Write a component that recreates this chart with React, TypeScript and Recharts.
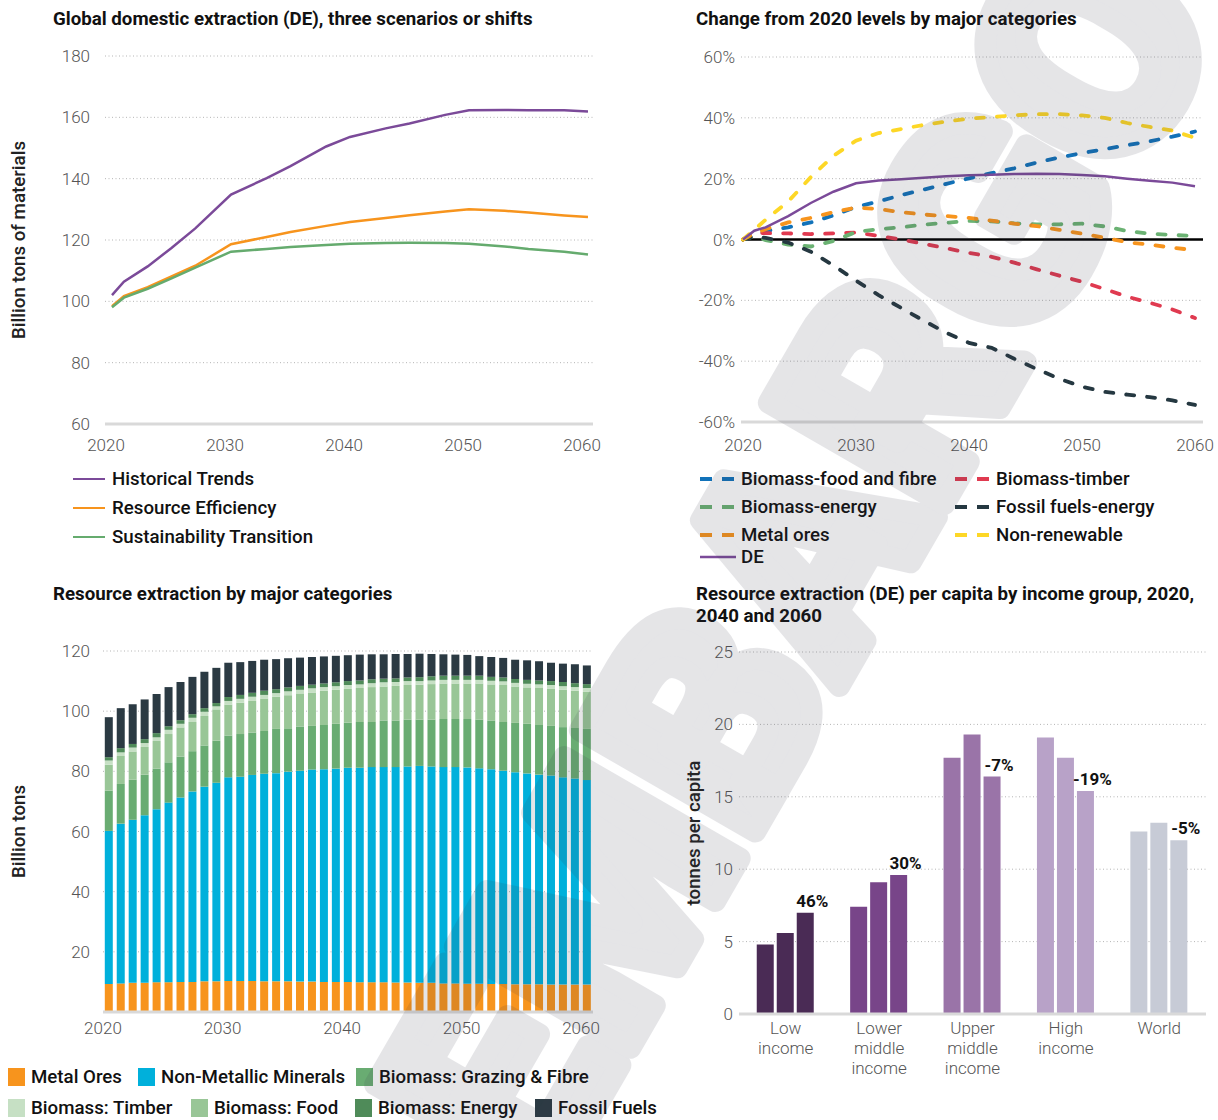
import React from "react";
import {
  LineChart,
  Line,
  BarChart,
  Bar,
  XAxis,
  YAxis,
  CartesianGrid,
  ReferenceLine,
  Cell,
  LabelList,
} from "recharts";

const FONT = "Roboto, 'Noto Sans', Arial, sans-serif";
const TICK_STYLE = { fill: "#555", fontSize: 17, fontWeight: 300, fontFamily: FONT };
const AXIS_LABEL_STYLE = { textAnchor: "middle", fontSize: 18.7, fontWeight: 500, fill: "#222", fontFamily: FONT };
const GRID_COLOR = "#b5b5b5";
const AXIS_COLOR = "#d9d9d9";
const DECADES = [2020, 2030, 2040, 2050, 2060];

// Global domestic extraction by scenario, billion tons
const scenarioYears = [2020, 2021, 2023, 2025, 2027, 2030, 2033, 2035, 2038, 2040, 2043, 2045, 2048, 2050, 2053, 2055, 2058, 2060];
const historicalTrends = [102.0, 106.4, 111.4, 117.4, 123.8, 134.8, 140.2, 144.1, 150.5, 153.6, 156.4, 158.0, 160.8, 162.3, 162.4, 162.3, 162.3, 161.9];
const resourceEfficiency = [98.4, 101.7, 104.6, 108.1, 111.6, 118.6, 121.0, 122.6, 124.6, 125.9, 127.2, 128.1, 129.3, 130.0, 129.5, 129.0, 128.0, 127.5];
const sustainabilityTransition = [98.1, 101.2, 104.1, 107.5, 111.0, 116.2, 117.1, 117.7, 118.4, 118.8, 119.0, 119.1, 119.0, 118.8, 117.9, 117.1, 116.2, 115.3];

// Change from 2020 levels, %
const changeYears = [2020, 2021, 2022, 2024, 2026, 2028, 2030, 2032, 2034, 2036, 2038, 2040, 2042, 2044, 2046, 2048, 2050, 2052, 2054, 2056, 2058, 2060];
const foodFibreChange = [0, 1.5, 2.8, 4.0, 5.6, 7.9, 10.7, 12.5, 14.6, 16.4, 18.3, 20.1, 21.8, 23.4, 25.3, 27.0, 28.4, 29.7, 31.0, 32.3, 33.8, 35.5];
const timberChange = [0, 2.2, 2.1, 2.0, 1.8, 2.0, 2.3, 1.2, 0.0, -1.4, -2.9, -4.4, -5.7, -7.6, -9.8, -11.9, -13.9, -16.3, -18.8, -20.8, -23.0, -25.8];
const bioEnergyChange = [0, 1.0, -0.2, -1.7, -2.3, -0.5, 2.5, 3.4, 4.0, 4.9, 5.5, 6.1, 6.0, 5.3, 5.0, 5.0, 5.2, 4.3, 2.8, 1.9, 1.5, 1.1];
const fossilChange = [0, 1.0, 0.5, -1.0, -4.0, -8.5, -13.5, -18.3, -22.5, -26.7, -30.7, -34.0, -35.6, -39.2, -42.6, -45.8, -48.4, -50.1, -51.0, -51.8, -52.9, -54.4];
const metalChange = [0, 2.0, 3.4, 5.6, 7.1, 9.0, 10.5, 10.0, 9.0, 8.2, 7.7, 7.1, 6.2, 5.2, 4.4, 3.2, 1.9, 0.6, -0.9, -1.7, -2.7, -3.5];
const nonRenewableChange = [0, 3.2, 6.5, 12.5, 20.5, 27.5, 32.5, 35.0, 36.3, 37.7, 38.8, 39.7, 40.3, 40.8, 41.2, 41.2, 40.8, 40.0, 38.3, 37.0, 35.8, 33.4];
const deChange = [0, 2.9, 4.0, 7.7, 12.0, 15.7, 18.5, 19.4, 19.8, 20.3, 20.8, 21.1, 21.3, 21.5, 21.6, 21.5, 21.2, 20.8, 20.0, 19.3, 18.7, 17.5];

// Resource extraction by category, billion tons
const extractionYears = [
  2020, 2021, 2022, 2023, 2024, 2025, 2026, 2027, 2028, 2029, 2030, 2031, 2032, 2033, 2034, 2035, 2036, 2037, 2038, 2039, 2040,
  2041, 2042, 2043, 2044, 2045, 2046, 2047, 2048, 2049, 2050, 2051, 2052, 2053, 2054, 2055, 2056, 2057, 2058, 2059, 2060,
];
const metalOres = [9.3, 9.5, 9.7, 9.7, 9.9, 9.9, 10.0, 10.0, 10.2, 10.2, 10.3, 10.3, 10.3, 10.2, 10.2, 10.2, 10.1, 10.1, 10.0, 10.0, 10.0, 9.9, 9.9, 9.9, 9.8, 9.8, 9.7, 9.7, 9.5, 9.5, 9.4, 9.4, 9.3, 9.3, 9.2, 9.2, 9.2, 9.1, 9.1, 9.1, 9.1];
const nonMetallic = [50.9, 53.1, 54.2, 55.7, 57.5, 59.7, 61.3, 63.3, 64.7, 66.0, 67.7, 67.9, 68.5, 69.0, 69.2, 69.7, 70.1, 70.5, 70.7, 70.9, 71.2, 71.3, 71.5, 71.5, 71.6, 71.8, 72.1, 71.9, 71.9, 71.9, 71.9, 71.6, 71.4, 70.9, 70.5, 70.1, 69.7, 69.5, 68.9, 68.5, 68.0];
const grazingFibre = [13.4, 13.2, 13.3, 13.5, 13.5, 13.4, 13.6, 13.4, 13.7, 14.0, 13.9, 14.2, 14.1, 14.2, 14.7, 14.4, 14.7, 14.5, 14.7, 14.9, 15.0, 15.2, 15.0, 15.5, 15.5, 15.6, 15.4, 15.6, 16.0, 16.0, 16.1, 16.2, 16.2, 16.2, 16.4, 16.5, 16.5, 16.5, 16.7, 16.8, 17.0];
const biomassFood = [8.6, 9.3, 9.4, 9.2, 9.2, 9.4, 9.7, 9.7, 9.8, 10.4, 10.3, 10.4, 10.5, 10.8, 10.7, 11.0, 11.0, 11.1, 11.4, 11.3, 11.2, 11.3, 11.6, 11.3, 11.5, 11.5, 11.6, 11.8, 11.8, 11.8, 11.8, 12.0, 12.0, 12.3, 12.1, 12.1, 12.3, 12.3, 12.4, 12.4, 12.3];
const biomassTimber = [1.4, 1.2, 1.3, 1.3, 1.2, 1.4, 1.2, 1.4, 1.4, 1.0, 1.2, 1.3, 1.4, 1.2, 1.2, 1.3, 1.2, 1.4, 1.2, 1.2, 1.3, 1.2, 1.3, 1.4, 1.3, 1.3, 1.2, 1.2, 1.2, 1.2, 1.2, 1.2, 1.2, 1.2, 1.2, 1.2, 1.2, 1.3, 1.2, 1.2, 1.3];
const biomassEnergy = [1.1, 1.4, 1.2, 1.3, 1.4, 1.2, 1.2, 1.2, 1.2, 1.1, 1.3, 1.3, 1.3, 1.4, 1.3, 1.3, 1.3, 1.2, 1.2, 1.3, 1.3, 1.3, 1.3, 1.2, 1.2, 1.2, 1.3, 1.4, 1.4, 1.4, 1.4, 1.4, 1.3, 1.3, 1.3, 1.3, 1.3, 1.3, 1.4, 1.3, 1.3];
const fossilFuels = [13.3, 13.3, 13.2, 13.2, 13.0, 13.0, 12.7, 12.4, 12.1, 11.7, 11.4, 10.9, 10.6, 10.3, 10.0, 9.7, 9.4, 9.2, 9.0, 8.8, 8.6, 8.6, 8.3, 8.1, 8.1, 7.8, 7.8, 7.4, 7.1, 7.0, 6.9, 6.5, 6.6, 6.5, 6.4, 6.5, 6.4, 6.1, 6.1, 6.3, 6.2];

// Per capita DE by income group, tonnes
const incomeGroups = ["Low income", "Lower middle income", "Upper middle income", "High income", "World"];
const incomeTickLines = [["Low", "income"], ["Lower", "middle", "income"], ["Upper", "middle", "income"], ["High", "income"], ["World"]];
const perCapita2020 = [4.8, 7.4, 17.7, 19.1, 12.6];
const perCapita2040 = [5.6, 9.1, 19.3, 17.7, 13.2];
const perCapita2060 = [7.0, 9.6, 16.4, 15.4, 12.0];
const changeLabels = ["46%", "30%", "-7%", "-19%", "-5%"];
const groupColors = ["#4a2b55", "#784589", "#9a74a8", "#b8a2c8", "#c7cbd6"];

const scenarioSeries = [
  { key: "historical", name: "Historical Trends", color: "#7b4a99" },
  { key: "efficiency", name: "Resource Efficiency", color: "#f7941d" },
  { key: "transition", name: "Sustainability Transition", color: "#65ab6e" },
];

const changeSeries = [
  { key: "food", name: "Biomass-food and fibre", color: "#1172b9", values: foodFibreChange, dashed: true },
  { key: "timber", name: "Biomass-timber", color: "#e03a50", values: timberChange, dashed: true },
  { key: "energy", name: "Biomass-energy", color: "#6bb273", values: bioEnergyChange, dashed: true },
  { key: "fossil", name: "Fossil fuels-energy", color: "#253841", values: fossilChange, dashed: true },
  { key: "metal", name: "Metal ores", color: "#f7941d", values: metalChange, dashed: true },
  { key: "nonren", name: "Non-renewable", color: "#fdd726", values: nonRenewableChange, dashed: true },
  { key: "de", name: "DE", color: "#7b4a99", values: deChange, dashed: false },
];

const categorySeries = [
  { key: "metal", name: "Metal Ores", color: "#f7941d", values: metalOres },
  { key: "nonMetal", name: "Non-Metallic Minerals", color: "#00b0db", values: nonMetallic },
  { key: "grazing", name: "Biomass: Grazing & Fibre", color: "#69ac72", values: grazingFibre },
  { key: "food", name: "Biomass: Food", color: "#99c697", values: biomassFood },
  { key: "timber", name: "Biomass: Timber", color: "#c6e0c4", values: biomassTimber },
  { key: "energy", name: "Biomass: Energy", color: "#4f8b59", values: biomassEnergy },
  { key: "fossil", name: "Fossil Fuels", color: "#2b3a43", values: fossilFuels },
];

const titleStyle: React.CSSProperties = {
  position: "absolute",
  fontSize: 18.7,
  fontWeight: 700,
  color: "#111",
  lineHeight: "22px",
  whiteSpace: "nowrap",
};
const legendText: React.CSSProperties = { fontSize: 18.7, fontWeight: 500, color: "#111", whiteSpace: "nowrap" };

function ScenarioChart() {
  const data = scenarioYears.map((year, i) => ({
    year,
    historical: historicalTrends[i],
    efficiency: resourceEfficiency[i],
    transition: sustainabilityTransition[i],
  }));
  return (
    <LineChart width={610} height={470} data={data} margin={{ top: 56, right: 17, bottom: 16, left: 0 }}>
      <CartesianGrid vertical={false} stroke={GRID_COLOR} strokeDasharray="1 2.5" />
      <XAxis
        dataKey="year"
        type="number"
        domain={[2020, 2060]}
        ticks={DECADES}
        padding={{ left: 7, right: 5 }}
        height={30}
        tickSize={0}
        tickMargin={15}
        tick={{ ...TICK_STYLE, dx: -6 }}
        axisLine={{ stroke: AXIS_COLOR, strokeWidth: 3 }}
      />
      <YAxis
        domain={[60, 180]}
        ticks={[60, 80, 100, 120, 140, 160, 180]}
        width={105}
        tickSize={0}
        tickMargin={15}
        axisLine={false}
        tick={TICK_STYLE}
        label={{ value: "Billion tons of materials", angle: -90, position: "insideLeft", offset: 18, style: AXIS_LABEL_STYLE }}
      />
      {scenarioSeries.map((s) => (
        <Line key={s.key} dataKey={s.key} stroke={s.color} strokeWidth={2.5} dot={false} isAnimationActive={false} />
      ))}
    </LineChart>
  );
}

function ChangeChart() {
  const data = changeYears.map((year, i) => {
    const row: Record<string, number> = { year };
    changeSeries.forEach((s) => (row[s.key] = s.values[i]));
    return row;
  });
  return (
    <LineChart width={598} height={470} data={data} margin={{ top: 57, right: 15, bottom: 18, left: 0 }}>
      <CartesianGrid vertical={false} stroke={GRID_COLOR} strokeDasharray="1 2.5" />
      <XAxis
        dataKey="year"
        type="number"
        domain={[2020, 2060]}
        ticks={DECADES}
        padding={{ left: 2, right: 8 }}
        height={30}
        tickSize={0}
        tickMargin={17}
        tick={TICK_STYLE}
        axisLine={{ stroke: AXIS_COLOR, strokeWidth: 3 }}
      />
      <YAxis
        domain={[-60, 60]}
        ticks={[-60, -40, -20, 0, 20, 40, 60]}
        tickFormatter={(v) => `${v}%`}
        width={121}
        tickSize={0}
        tickMargin={6}
        axisLine={false}
        tick={TICK_STYLE}
      />
      <ReferenceLine y={0} stroke="#000" strokeWidth={2.5} />
      {changeSeries.map((s) => (
        <Line
          key={s.key}
          dataKey={s.key}
          stroke={s.color}
          strokeWidth={s.dashed ? 3.8 : 2.5}
          strokeDasharray={s.dashed ? "8 13" : undefined}
          strokeLinecap={s.dashed ? "round" : "butt"}
          dot={false}
          isAnimationActive={false}
        />
      ))}
    </LineChart>
  );
}

function CategoryChart() {
  const data = extractionYears.map((year, i) => {
    const row: Record<string, number> = { year };
    categorySeries.forEach((s) => (row[s.key] = s.values[i]));
    return row;
  });
  return (
    <BarChart width={610} height={440} data={data} margin={{ top: 31, right: 17, bottom: 18, left: 0 }} barCategoryGap="15%">
      <CartesianGrid vertical={false} stroke={GRID_COLOR} strokeDasharray="1 2.5" />
      <XAxis
        dataKey="year"
        interval={9}
        height={30}
        tickSize={0}
        tickMargin={10}
        tick={{ ...TICK_STYLE, dx: -6 }}
        axisLine={{ stroke: AXIS_COLOR, strokeWidth: 3 }}
      />
      <YAxis
        domain={[0, 120]}
        ticks={[20, 40, 60, 80, 100, 120]}
        width={103}
        tickSize={0}
        tickMargin={13}
        axisLine={false}
        tick={TICK_STYLE}
        label={{ value: "Billion tons", angle: -90, position: "insideLeft", offset: 18, style: AXIS_LABEL_STYLE }}
      />
      {categorySeries.map((s) => (
        <Bar key={s.key} dataKey={s.key} stackId="de" fill={s.color} isAnimationActive={false} />
      ))}
    </BarChart>
  );
}

function IncomeTick(props: any) {
  const { x, y, payload } = props;
  const idx = incomeGroups.indexOf(payload.value);
  const lines = incomeTickLines[idx] || [payload.value];
  return (
    <text x={x} y={y} textAnchor="middle" fill={TICK_STYLE.fill} fontSize={17} fontWeight={300} fontFamily={FONT}>
      {lines.map((l, i) => (
        <tspan key={i} x={x} dy={20}>
          {l}
        </tspan>
      ))}
    </text>
  );
}

function renderChange(props: any) {
  const { x, y, width, value } = props;
  return (
    <text x={x + width / 2 + 7} y={y - 6} textAnchor="middle" fontSize={17} fontWeight={700} fill="#111" fontFamily={FONT}>
      {value}
    </text>
  );
}

function PerCapitaChart() {
  const data = incomeGroups.map((group, i) => ({
    group,
    y2020: perCapita2020[i],
    y2040: perCapita2040[i],
    y2060: perCapita2060[i],
    change: changeLabels[i],
  }));
  const keys = ["y2020", "y2040", "y2060"];
  return (
    <BarChart width={598} height={470} data={data} margin={{ top: 32, right: 12, bottom: 16, left: 0 }} barCategoryGap="19%" barGap={3}>
      <CartesianGrid vertical={false} stroke={GRID_COLOR} strokeDasharray="1 2.5" />
      <XAxis
        dataKey="group"
        interval={0}
        height={60}
        tickSize={0}
        tickMargin={0}
        tick={(p: any) => <IncomeTick {...p} />}
        axisLine={{ stroke: AXIS_COLOR, strokeWidth: 3 }}
      />
      <YAxis
        domain={[0, 25]}
        ticks={[0, 5, 10, 15, 20, 25]}
        width={119}
        tickSize={0}
        tickMargin={6}
        axisLine={false}
        tick={TICK_STYLE}
        label={{ value: "tonnes per capita", angle: -90, position: "insideLeft", offset: 73, style: AXIS_LABEL_STYLE }}
      />
      {keys.map((k) => (
        <Bar key={k} dataKey={k} isAnimationActive={false}>
          {data.map((d, i) => (
            <Cell key={d.group} fill={groupColors[i]} />
          ))}
          {k === "y2060" && <LabelList dataKey="change" content={renderChange} />}
        </Bar>
      ))}
    </BarChart>
  );
}

function LineSwatch({ color, dashed }: { color: string; dashed: boolean }) {
  return (
    <svg width={36} height={8} style={{ display: "block" }}>
      <line
        x1={0}
        y1={4}
        x2={dashed ? 34 : 37}
        y2={4}
        stroke={color}
        strokeWidth={dashed ? 4 : 2.5}
        strokeDasharray={dashed ? "12 10" : undefined}
      />
    </svg>
  );
}

export default function App() {
  const changeRows = [
    [changeSeries[0], changeSeries[1]],
    [changeSeries[2], changeSeries[3]],
    [changeSeries[4], changeSeries[5]],
    [changeSeries[6]],
  ];
  const changeRowY = [479, 507, 535, 557];
  const catRows = [
    [
      { s: categorySeries[0], x: 8 },
      { s: categorySeries[1], x: 138 },
      { s: categorySeries[2], x: 356 },
    ],
    [
      { s: categorySeries[4], x: 8 },
      { s: categorySeries[3], x: 191 },
      { s: categorySeries[5], x: 355 },
      { s: categorySeries[6], x: 535 },
    ],
  ];
  const catRowY = [1077, 1108];

  return (
    <div
      style={{
        position: "absolute",
        left: 0,
        top: 0,
        width: 1218,
        height: 1120,
        background: "#fff",
        fontFamily: FONT,
        overflow: "hidden",
      }}
    >
      <div style={{ ...titleStyle, left: 53, top: 8 }}>Global domestic extraction (DE), three scenarios or shifts</div>
      <div style={{ ...titleStyle, left: 696, top: 8 }}>Change from 2020 levels by major categories</div>
      <div style={{ ...titleStyle, left: 53, top: 583 }}>Resource extraction by major categories</div>
      <div style={{ ...titleStyle, left: 696, top: 583 }}>
        Resource extraction (DE) per capita by income group, 2020,
        <br />
        2040 and 2060
      </div>

      <div style={{ position: "absolute", left: 0, top: 0 }}>
        <ScenarioChart />
      </div>
      <div style={{ position: "absolute", left: 620, top: 0 }}>
        <ChangeChart />
      </div>
      <div style={{ position: "absolute", left: 0, top: 620 }}>
        <CategoryChart />
      </div>
      <div style={{ position: "absolute", left: 620, top: 620 }}>
        <PerCapitaChart />
      </div>

      {scenarioSeries.map((s, i) => (
        <div key={s.key} style={{ position: "absolute", left: 73, top: 479 + i * 29 - 12, height: 24, display: "flex", alignItems: "center" }}>
          <div style={{ width: 32, height: 2.5, background: s.color, marginRight: 7 }} />
          <span style={legendText}>{s.name}</span>
        </div>
      ))}

      {changeRows.map((row, r) =>
        row.map((s, c) => (
          <div
            key={s.key}
            style={{ position: "absolute", left: c === 0 ? 700 : 955, top: changeRowY[r] - 12, height: 24, display: "flex", alignItems: "center" }}
          >
            <div style={{ marginRight: 5 }}>
              <LineSwatch color={s.color} dashed={s.dashed} />
            </div>
            <span style={legendText}>{s.name}</span>
          </div>
        ))
      )}

      {catRows.map((row, r) =>
        row.map(({ s, x }) => (
          <div key={s.key} style={{ position: "absolute", left: x, top: catRowY[r] - 12, height: 24, display: "flex", alignItems: "center" }}>
            <div style={{ width: 17, height: 18, background: s.color, marginRight: 6 }} />
            <span style={legendText}>{s.name}</span>
          </div>
        ))
      )}

      <svg width={1218} height={1120} style={{ position: "absolute", left: 0, top: 0, pointerEvents: "none" }}>
        <g opacity={0.13}>
          <text
            x={800}
            y={560}
            textAnchor="middle"
            dominantBaseline="central"
            fontSize={285}
            fontWeight={900}
            fontFamily={FONT}
            fill="#3c3c50"
            stroke="#3c3c50"
            strokeWidth={22}
            strokeLinejoin="round"
            transform="rotate(-60 800 560)"
          >
            EMBARGO
          </text>
        </g>
      </svg>
    </div>
  );
}
